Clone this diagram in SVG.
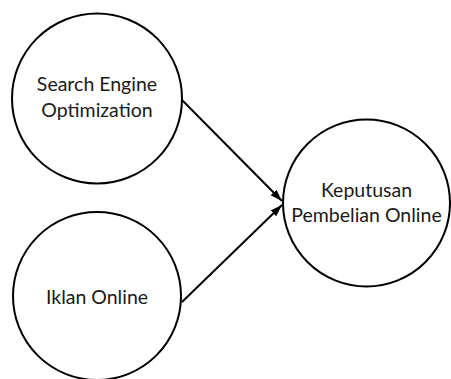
<svg xmlns="http://www.w3.org/2000/svg" width="451" height="379" viewBox="0 0 451 379">
  <style>
    .node { fill: #ffffff; stroke: #000000; stroke-width: 2; }
    .label { font-family: Lato, "Liberation Sans", sans-serif; font-size: 19.5px; fill: #1a1a1a; text-anchor: middle; }
    .edge { stroke: #000000; stroke-width: 2; fill: none; marker-end: url(#arrow); }
  </style>
  <defs>
    <marker id="arrow" viewBox="0 0 12 8" refX="12" refY="4" markerWidth="12" markerHeight="8" markerUnits="userSpaceOnUse" orient="auto">
      <path d="M0,0 L12,4 L0,8 Z" fill="#000000"/>
    </marker>
  </defs>
  <rect width="451" height="379" fill="#ffffff"/>

  <g id="seo">
    <circle class="node" cx="97" cy="98.5" r="85"/>
    <text class="label" x="97" y="91">Search Engine</text>
    <text class="label" x="97" y="117">Optimization</text>
  </g>

  <g id="iklan-online">
    <circle class="node" cx="97" cy="296" r="84"/>
    <text class="label" x="97" y="304">Iklan Online</text>
  </g>

  <g id="keputusan-pembelian">
    <circle class="node" cx="366.5" cy="203" r="83.5"/>
    <text class="label" x="366.5" y="197">Keputusan</text>
    <text class="label" x="366.5" y="222">Pembelian Online</text>
  </g>

  <g id="connectors">
    <line class="edge" x1="182" y1="100" x2="282" y2="201"/>
    <line class="edge" x1="182" y1="302" x2="282" y2="205"/>
  </g>
</svg>
